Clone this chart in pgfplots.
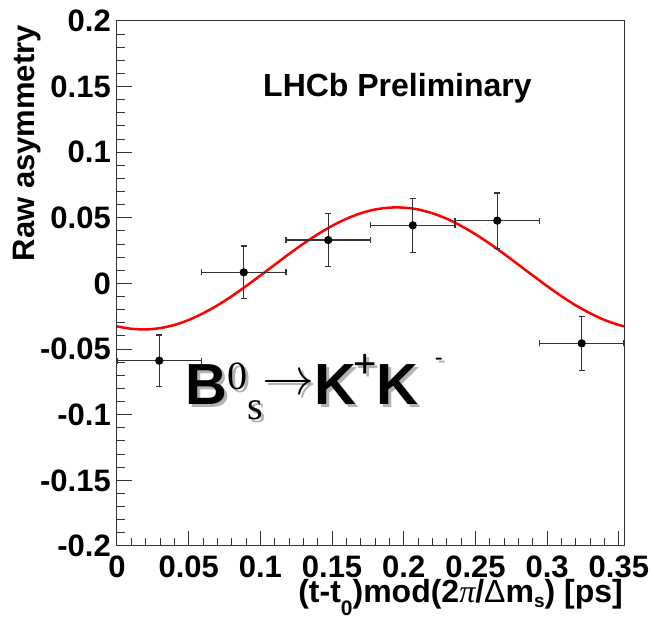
\documentclass[border=0pt]{standalone}
\usepackage{graphicx}
\usepackage{pgfplots}
\pgfplotsset{compat=1.18}
\usepackage{pgfplotstable}
\usepackage{fontspec}
\setmainfont{Liberation Sans}
\newfontfamily\serif{Liberation Serif}

\pgfplotstableread{
x       y        ex       ey
0.02947 -0.0588  0.02947  0.0196
0.0884   0.0085  0.02947  0.0200
0.1473   0.0331  0.02947  0.0200
0.2063   0.0443  0.02947  0.0206
0.2652   0.0479  0.02947  0.0210
0.3241  -0.0456  0.02947  0.0206
}\datatable

\pgfplotstableread{
x       y
0.000  -0.0327
0.010  -0.0345
0.020  -0.0350
0.030  -0.0340
0.040  -0.0316
0.050  -0.0278
0.060  -0.0227
0.070  -0.0167
0.080  -0.0097
0.090  -0.0020
0.100   0.0061
0.110   0.0143
0.120   0.0225
0.130   0.0303
0.140   0.0375
0.150   0.0439
0.160   0.0493
0.170   0.0535
0.180   0.0564
0.190   0.0578
0.200   0.0578
0.210   0.0564
0.220   0.0535
0.230   0.0493
0.240   0.0439
0.250   0.0375
0.260   0.0303
0.270   0.0225
0.280   0.0143
0.290   0.0061
0.300  -0.0020
0.310  -0.0097
0.320  -0.0167
0.330  -0.0227
0.340  -0.0278
0.350  -0.0316
0.3536 -0.0326
}\fittable

\newcommand{\decay}{%
\fontsize{58}{58}\selectfont\bfseries B%
\raisebox{15pt}{\serif\mdseries\fontsize{40}{40}\selectfont 0}%
\raisebox{-15pt}{\serif\mdseries\fontsize{40}{40}\selectfont s}%
\raisebox{10pt}{\scalebox{5.2}{\fontsize{10}{10}\selectfont$\rightarrow$}}%
K\hspace{-3pt}\raisebox{27pt}{\mdseries\fontsize{40}{40}\selectfont +}%
K\hspace{16pt}\raisebox{39pt}{\mdseries\fontsize{24}{24}\selectfont -}}

\begin{document}
\begin{tikzpicture}
\useasboundingbox (0pt,0pt) rectangle (654pt,624pt);
\begin{axis}[at={(117pt,78pt)}, anchor=south west,
  width=507pt, height=525pt, scale only axis,
  xmin=0, xmax=0.3536, ymin=-0.2, ymax=0.2,
  axis line style={black!80, line width=1pt},
  tick align=inside, xtick pos=bottom, ytick pos=left,
  xtick={0,0.05,0.1,0.15,0.2,0.25,0.3,0.35},
  xticklabels={0,0.05,0.1,0.15,0.2,0.25,0.3,0.35},
  ytick={-0.2,-0.15,-0.1,-0.05,0,0.05,0.1,0.15,0.2},
  yticklabels={-0.2,-0.15,-0.1,-0.05,0,0.05,0.1,0.15,0.2},
  minor x tick num=4, minor y tick num=4,
  major tick length=15pt, minor tick length=8pt,
  every tick/.style={black!80, line width=1pt},
  ticklabel style={font=\bfseries\fontsize{31}{31}\selectfont, inner sep=0pt},
  yticklabel style={anchor=east, xshift=-6pt},
  xticklabel style={anchor=north, yshift=-10pt},
]
\addplot[red, line width=2.5pt, smooth] table[x=x,y=y] {\fittable};
\addplot[black!80, line width=1.2pt, only marks, mark=*, mark size=3.5pt,
  mark options={black, solid},
  error bars/.cd, x dir=both, x explicit, y dir=both, y explicit,
  error bar style={line width=1.2pt, black!80},
  error mark options={rotate=90, mark size=3pt, line width=1.2pt, black!80}]
  table[x=x, y=y, x error=ex, y error=ey] {\datatable};
\end{axis}
\node[anchor=base west, inner sep=0pt, font=\bfseries\fontsize{32}{32}\selectfont] at (263pt,527pt) {LHCb Preliminary};
\node[anchor=base west, inner sep=0pt, text=black!30] at (188pt,216pt) {\decay};
\node[anchor=base west, inner sep=0pt, text=black] at (185pt,219pt) {\decay};
\node[rotate=90, anchor=east, inner sep=0pt, font=\bfseries\fontsize{31}{31}\selectfont] at (27pt,599pt) {Raw asymmetry};
\node[anchor=base east, inner sep=0pt, font=\bfseries\fontsize{32}{32}\selectfont] at (623pt,21pt)
  {(t-t\raisebox{-13pt}{\fontsize{21}{21}\selectfont 0})mod(2{\serif\mdseries\itshape π}/{\mdseries Δ}m\raisebox{-5pt}{\fontsize{19}{19}\selectfont s}) [ps]};
\end{tikzpicture}
\end{document}
